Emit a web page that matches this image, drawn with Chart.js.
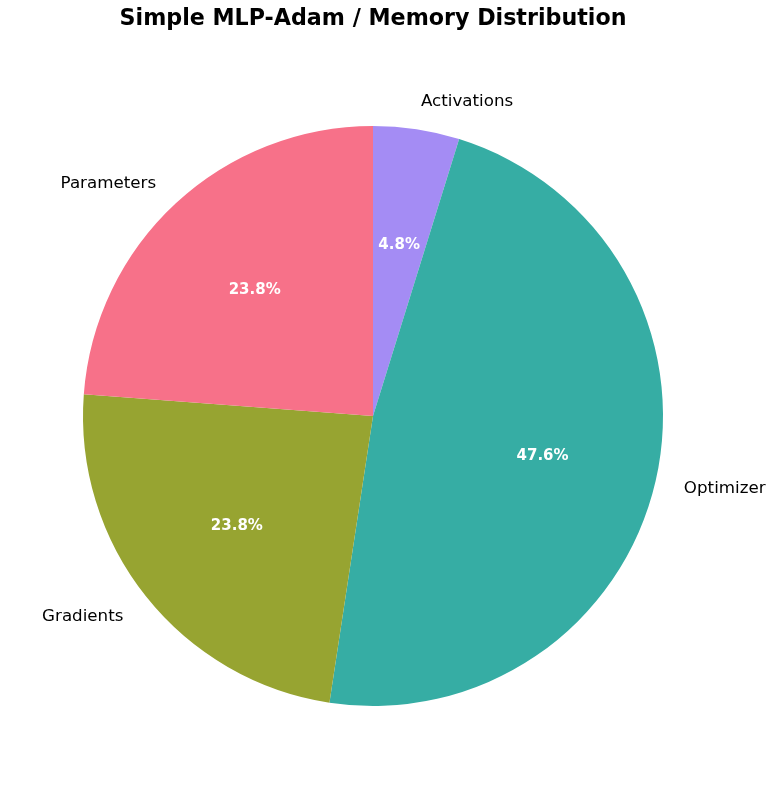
<!DOCTYPE html>
<html>
<head>
<meta charset="utf-8">
<script src="https://cdn.jsdelivr.net/npm/chart.js@4/dist/chart.umd.min.js"></script>
<style>
html,body{margin:0;padding:0;background:#fff;}
#wrap{width:775px;height:789px;}
</style>
</head>
<body>
<div id="wrap"><canvas id="c" width="775" height="789"></canvas></div>
<script>
// Data (listed clockwise from the top, as Chart.js draws)
const categories = ["Activations", "Optimizer", "Gradients", "Parameters"];
const percentages = [4.8, 47.6, 23.8, 23.8];
const colors = ["#a48cf4", "#36ada4", "#97a431", "#f77189"];
const chartTitle = "Simple MLP-Adam / Memory Distribution";

const FONT = "'DejaVu Sans', sans-serif";

const labelPlugin = {
  id: 'pieLabels',
  afterDatasetsDraw(chart) {
    const ctx = chart.ctx;
    const meta = chart.getDatasetMeta(0);
    const total = percentages.reduce((a, b) => a + b, 0);
    ctx.save();
    meta.data.forEach((arc, i) => {
      const p = arc.getProps(['x', 'y', 'startAngle', 'endAngle', 'outerRadius'], true);
      const mid = (p.startAngle + p.endAngle) / 2;
      const r = p.outerRadius;
      // outer label
      const lx = p.x + 1.1 * r * Math.cos(mid);
      const ly = p.y + 1.1 * r * Math.sin(mid) + 1.5;
      ctx.font = "16.7px " + FONT;
      ctx.fillStyle = "#000";
      ctx.textBaseline = "middle";
      ctx.textAlign = Math.cos(mid) > 0 ? "left" : "right";
      ctx.fillText(categories[i], lx, ly);
      // percent label
      const px = p.x + 0.6 * r * Math.cos(mid);
      const py = p.y + 0.6 * r * Math.sin(mid) + 1.5;
      ctx.font = "bold 15px " + FONT;
      ctx.fillStyle = "#fff";
      ctx.textAlign = "center";
      ctx.fillText((percentages[i] / total * 100).toFixed(1) + "%", px, py);
    });
    // title
    ctx.font = "bold 22.2px " + FONT;
    ctx.fillStyle = "#000";
    ctx.textAlign = "center";
    ctx.textBaseline = "middle";
    ctx.fillText(chartTitle, (chart.chartArea.left + chart.chartArea.right) / 2, 19.5);
    ctx.restore();
  }
};

new Chart(document.getElementById('c'), {
  type: 'pie',
  data: {
    labels: categories,
    datasets: [{
      data: percentages,
      backgroundColor: colors,
      borderWidth: 0,
      hoverOffset: 0
    }]
  },
  options: {
    responsive: false,
    animation: false,
    rotation: 0,
    layout: { padding: { left: 83, right: 112, top: 126, bottom: 83 } },
    plugins: {
      legend: { display: false },
      tooltip: { enabled: false },
      title: { display: false }
    }
  },
  plugins: [labelPlugin]
});
</script>
</body>
</html>
